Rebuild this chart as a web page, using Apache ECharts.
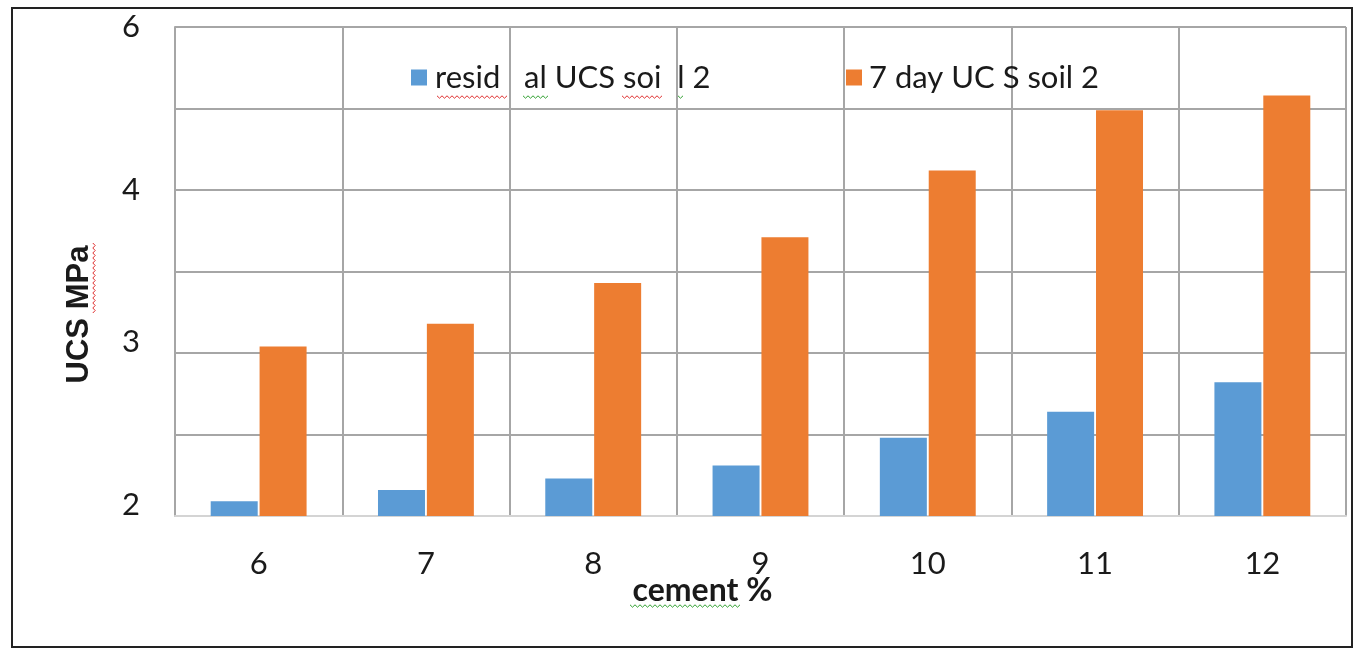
<!DOCTYPE html>
<html>
<head>
<meta charset="utf-8">
<script src="https://cdn.jsdelivr.net/npm/echarts@6/dist/echarts.min.js"></script>
<style>
html,body{margin:0;padding:0;background:#fff;}
#chart{width:1368px;height:661px;}
</style>
</head>
<body>
<div id="chart"></div>
<script>
// ---- data ----
var categories = ['6', '7', '8', '9', '10', '11', '12'];
var seriesNames = ['resid   al UCS soi  l 2', '7 day UC S soil 2'];
var residualUCS = [2.09, 2.16, 2.23, 2.31, 2.48, 2.64, 2.82];
var sevenDayUCS = [3.04, 3.18, 3.43, 3.71, 4.12, 4.49, 4.58];
var yTickValues = [2, 3, 4, 5];
var yTickLabels = ['2', '3', '4', '6'];
var xAxisName = 'cement %';
var yAxisName = 'UCS MPa';

var chart = echarts.init(document.getElementById('chart'));
var FONT = 'Lato';
var gridColor = '#a6a6a6';

function squiggle(x1, x2, y, color, vertical) {
  var pts = [], step = 2.5, i = 0;
  for (var p = x1; p <= x2; p += step, i++) {
    var off = (i % 2 === 0) ? -1.2 : 1.2;
    pts.push(vertical ? [y + off, p] : [p, y + off]);
  }
  return {
    type: 'polyline', silent: true,
    shape: { points: pts },
    style: { stroke: color, lineWidth: 1, fill: null }
  };
}

var labelShift = { '2': 22, '3': 22, '4': 0, '6': 0 };

chart.setOption({
  backgroundColor: '#ffffff',
  animation: false,
  grid: { left: 175, right: 22, top: 27, bottom: 145, containLabel: false },
  legend: [
    {
      data: [seriesNames[0]], left: 411, top: 62, padding: 0,
      icon: 'rect', itemWidth: 16, itemHeight: 16,
      textStyle: { fontFamily: FONT, fontSize: 31, color: '#1a1a1a', padding: [0, 0, 0, 3] }
    },
    {
      data: [seriesNames[1]], left: 846, top: 62, padding: 0,
      icon: 'rect', itemWidth: 16, itemHeight: 16,
      textStyle: { fontFamily: FONT, fontSize: 31, color: '#1a1a1a', padding: [0, 0, 0, 2] }
    }
  ],
  xAxis: {
    type: 'category',
    data: categories,
    name: xAxisName,
    nameLocation: 'middle',
    nameGap: 59,
    nameMoveOverlap: false,
    nameTextStyle: { fontFamily: FONT, fontWeight: 'bold', fontSize: 32, color: '#1a1a1a', padding: [0, 116, 0, 0] },
    axisLine: { show: true, lineStyle: { color: '#d4d4d4', width: 2 } },
    axisTick: { show: false },
    axisLabel: { fontFamily: FONT, fontSize: 31, color: '#1a1a1a', margin: 32 },
    splitLine: { show: true, interval: 0, lineStyle: { color: gridColor, width: 2 } }
  },
  yAxis: {
    type: 'value',
    min: 2, max: 5, interval: 0.5,
    name: yAxisName,
    nameLocation: 'middle',
    nameGap: 80,
    nameRotate: 90,
    nameTextStyle: { fontFamily: 'Liberation Sans', fontWeight: 'bold', fontSize: 31, color: '#1a1a1a', padding: [0, 86, 0, 0] },
    axisLine: { show: true, lineStyle: { color: gridColor, width: 2 } },
    axisTick: { show: false },
    axisLabel: {
      fontFamily: FONT, fontSize: 31, color: '#1a1a1a', margin: 35,
      formatter: function (v) {
        var idx = yTickValues.indexOf(v);
        if (idx < 0) return '';
        var t = yTickLabels[idx];
        return labelShift[t] ? '{up|' + t + '}' : t;
      },
      rich: { up: { fontFamily: FONT, fontSize: 31, color: '#1a1a1a', padding: [0, 0, 22, 0] } }
    },
    splitLine: { show: true, lineStyle: { color: gridColor, width: 2 } }
  },
  series: [
    {
      name: seriesNames[0], type: 'bar', data: residualUCS,
      barWidth: 47, barGap: '4%',
      itemStyle: { color: '#5b9bd5' }
    },
    {
      name: seriesNames[1], type: 'bar', data: sevenDayUCS,
      barWidth: 47, barGap: '4%',
      itemStyle: { color: '#ed7d31' }
    }
  ],
  graphic: [
    {
      type: 'rect', silent: true,
      shape: { x: 12, y: 8, width: 1340, height: 639 },
      style: { stroke: '#222', lineWidth: 2, fill: null }
    },
    squiggle(437, 507, 97, '#e03030'),
    squiggle(523, 550, 97, '#30a030'),
    squiggle(622, 663, 97, '#e03030'),
    squiggle(678, 684, 97, '#30a030'),
    squiggle(630, 741, 606, '#30a030'),
    squiggle(243, 315, 94, '#e03030', true)
  ]
});
</script>
</body>
</html>
